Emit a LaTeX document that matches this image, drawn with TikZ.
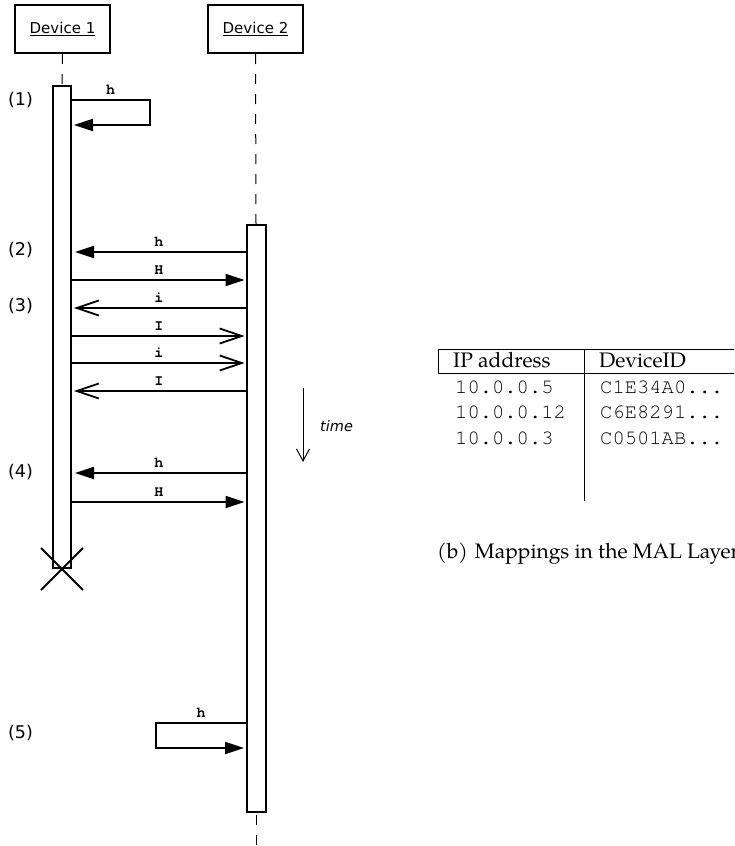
\documentclass[tikz,border=0pt]{standalone}
\usepackage{fontspec}
\newfontfamily\dejavu{DejaVu Sans}
\newfontfamily\cursor{texgyrecursor-regular.otf}
\newfontfamily\cursorbf{texgyrecursor-bold.otf}
\newfontfamily\pagella{texgyrepagella-regular.otf}
\usetikzlibrary{arrows.meta}
\begin{document}
\begin{tikzpicture}[x=1pt,y=-1pt,
  devbox/.style={draw,line width=2pt,minimum width=95pt,minimum height=48pt,inner sep=0pt,font=\dejavu\fontsize{15}{15}\selectfont},
  bar/.style={draw,fill=white,line width=2pt,minimum width=18pt,inner sep=0pt},
  life/.style={line width=1pt,dash pattern=on 10pt off 10pt},
  sync/.style={line width=1.8pt,-{Triangle[length=19pt,width=12pt]}},
  async/.style={line width=1.8pt,-{Straight Barb[length=22pt,width=15pt,line width=1.8pt]}},
  lbl/.style={above=3.5pt,inner sep=1pt,font=\cursorbf\fontsize{15}{15}\selectfont},
  steplbl/.style={font=\dejavu\fontsize{17.5}{17.5}\selectfont,inner sep=0pt},
  tline/.style={line width=0.8pt},
  hdr/.style={anchor=base west,inner sep=0pt,font=\pagella\fontsize{21}{21}\selectfont},
  cell/.style={anchor=base west,inner sep=0pt,font=\cursor\fontsize{20.5}{20.5}\selectfont}
]
\useasboundingbox (0,0) rectangle (734,846);

% lifeline heads
\node[devbox] (dev1) at (62.5,29) {\underline{Device 1}};
\node[devbox] (dev2) at (255.5,29) {\underline{Device 2}};

% activation bars
\node[bar,minimum height=482pt] (bar1) at (62,327) {};
\node[bar,minimum width=19pt,minimum height=587pt] (bar2) at (256,518.5) {};

% lifelines
\coordinate (low2) at (256,815);
\coordinate (end2) at (256,846);
\draw[life] (dev1.south) -- (bar1.north);
\draw[life] (dev2.south) -- (bar2.north);
\draw[life] (low2) -- (end2);

% message end points
\foreach \n/\y in {2/252,3/280,4/308,5/336,6/363,7/391,8/473,9/502}{
  \coordinate (L\n) at (71,\y);
  \coordinate (R\n) at (246.5,\y);
}

% (1) self message
\coordinate (S1a) at (71,100);
\coordinate (S1b) at (150,100);
\coordinate (S1c) at (150,125);
\coordinate (S1d) at (72,125);
\draw[sync,shorten >=2pt] (S1a) -- node[lbl]{h} (S1b) -- (S1c) -- (S1d);

% messages
\draw[sync,shorten >=4pt] (R2) -- node[lbl]{h} (L2);
\draw[sync,shorten >=2pt] (L3) -- node[lbl]{H} (R3);
\draw[async,shorten >=3pt] (R4) -- node[lbl]{i} (L4);
\draw[async,shorten >=2pt] (L5) -- node[lbl]{I} (R5);
\draw[async,shorten >=2pt] (L6) -- node[lbl]{i} (R6);
\draw[async,shorten >=3pt] (R7) -- node[lbl]{I} (L7);
\draw[sync,shorten >=4pt] (R8) -- node[lbl]{h} (L8);
\draw[sync,shorten >=2pt] (L9) -- node[lbl]{H} (R9);

% (5) self message
\coordinate (S5a) at (246,723);
\coordinate (S5b) at (156,723);
\coordinate (S5c) at (156,748);
\coordinate (S5d) at (246,748);
\draw[sync,shorten >=2pt] (S5a) -- node[lbl]{h} (S5b) -- (S5c) -- (S5d);

% destruction cross
\coordinate (x1) at (bar1.south);
\draw[line width=2pt] ([shift={(-21,-21)}]x1) -- ([shift={(21,21)}]x1);
\draw[line width=2pt] ([shift={(-21,21)}]x1) -- ([shift={(21,-21)}]x1);

% step labels
\node[steplbl] (st1) at (20.5,100) {(1)};
\node[steplbl] (st2) at (20.5,250) {(2)};
\node[steplbl] (st3) at (20.5,306) {(3)};
\node[steplbl] (st4) at (20.5,472) {(4)};
\node[steplbl] (st5) at (20.5,733) {(5)};

% time arrow
\coordinate (t1) at (303,388);
\coordinate (t2) at (303,462);
\draw[line width=1pt,-{Straight Barb[length=12pt,width=13pt,line width=1pt]}] (t1) -- (t2);
\node[font=\dejavu\itshape\fontsize{14.5}{14.5}\selectfont,anchor=west,inner sep=0pt] (time) at (320,426) {time};

% table
\draw[tline] (438,349) -- (734,349);
\draw[tline] (438,373) -- (734,373);
\draw[tline] (438,349) -- (438,373);
\draw[tline] (584,349) -- (584,501);
\node[hdr] (h1) at (453,367) {IP address};
\node[hdr] (h2) at (599,367) {DeviceID};
\node[cell] (c11) at (455,393) {10.0.0.5};
\node[cell] (c12) at (600,393) {C1E34A0...};
\node[cell] (c21) at (455,418) {10.0.0.12};
\node[cell] (c22) at (600,418) {C6E8291...};
\node[cell] (c31) at (455,444) {10.0.0.3};
\node[cell] (c32) at (600,444) {C0501AB...};

% caption
\node[hdr] (cap) at (437,558) {(b)\hspace{7pt}Mappings in the MAL Layer};
\end{tikzpicture}
\end{document}
